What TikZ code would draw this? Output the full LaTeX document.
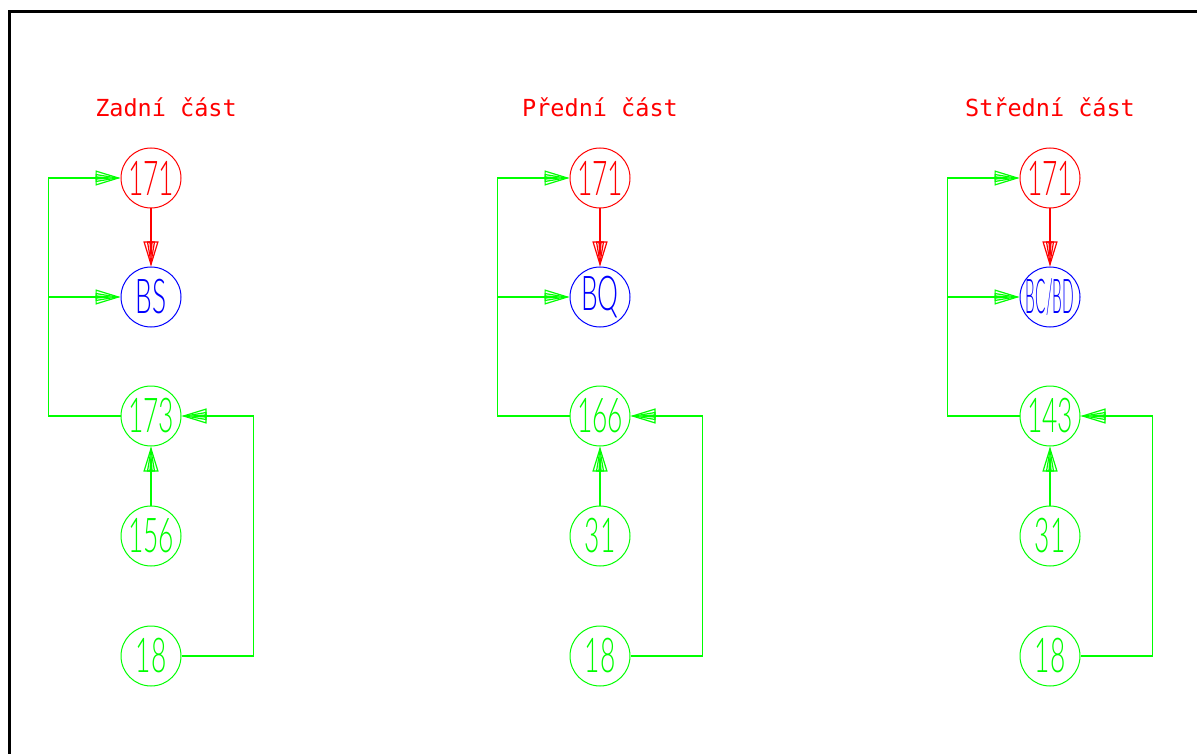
\documentclass[tikz,border=0pt]{standalone}
\usepackage{fontspec}
\usepackage{graphicx}
\usetikzlibrary{arrows.meta}
\IfFontExistsTF{Lato Light}{\newfontfamily\numfont{Lato Light}}{\newfontfamily\numfont{Liberation Sans}}
\newfontfamily\titlefont{DejaVu Sans Mono}
\definecolor{cadred}{RGB}{255,0,0}
\definecolor{cadgreen}{RGB}{0,255,0}
\definecolor{cadblue}{RGB}{0,0,255}
\newcommand\lbl[2][0.55]{\makebox[0pt]{\scalebox{#1}[1]{\numfont\fontsize{48}{48}\selectfont #2}}}
\tikzset{
  cnode/.style={circle, draw, minimum size=60pt, inner sep=0pt, line width=1pt},
  rnode/.style={cnode, draw=cadred, text=cadred},
  bnode/.style={cnode, draw=cadblue, text=cadblue},
  gnode/.style={cnode, draw=cadgreen, text=cadgreen},
  fan/.style={-{Triangle[open,length=25pt,width=15pt,sep=-25pt]Triangle[open,length=25pt,width=8pt,sep=-25pt]Triangle[length=25pt,width=3pt]}},
  gl/.style={draw=cadgreen, line width=1.2pt, fan},
  rl/.style={draw=cadred, line width=1.2pt, fan},
  ttl/.style={text=cadred, font=\titlefont\fontsize{23.5}{24}\selectfont, inner sep=0pt}
}
\begin{document}
\begin{tikzpicture}[x=1pt,y=-1pt]
\useasboundingbox (0,0) rectangle (1197,754);
\draw[line width=3pt] (9,770) -- (9,12) -- (1210,12);
\foreach \cx/\tx/\t/\b/\bs/\c/\d/\id in {151/166/{Zadní část}/BS/0.55/173/156/z, 600/600/{Přední část}/BQ/0.55/166/31/p, 1050/1050/{Střední část}/{BC/BD}/0.32/143/31/s}{
  \node[ttl] (t\id) at (\tx,107) {\t};
  \node[rnode] (a\id) at (\cx,178) {\lbl{171}};
  \node[bnode] (b\id) at (\cx,297) {\lbl[\bs]{\b}};
  \node[gnode] (c\id) at (\cx,416) {\lbl{\c}};
  \node[gnode] (d\id) at (\cx,536) {\lbl{\d}};
  \node[gnode] (e\id) at (\cx,656) {\lbl{18}};
  \coordinate (j\id) at (\cx-102,297);
  \draw[rl] (a\id) -- (b\id);
  \draw[gl] (c\id.west) -- ++(-72,0) |- (a\id.west);
  \draw[gl] (j\id) -- (b\id.west);
  \draw[gl] (d\id) -- (c\id);
  \draw[gl] (e\id.east) -- ++(72,0) |- (c\id.east);
}
\end{tikzpicture}
\end{document}
